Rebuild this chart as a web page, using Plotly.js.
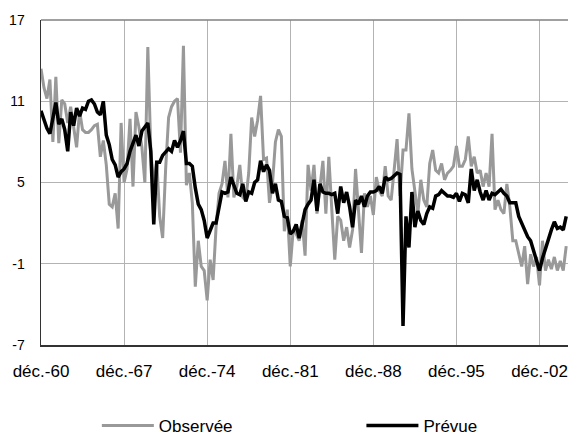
<!DOCTYPE html>
<html>
<head>
<meta charset="utf-8">
<script src="https://cdn.plot.ly/plotly-3.0.1.min.js"></script>
<style>html,body{margin:0;padding:0;background:#fff;}#chart{width:568px;height:436px;}</style>
</head>
<body>
<div id="chart"></div>
<script>
// Quarterly periods starting déc.-60
const quarterNames = ['déc.', 'mars', 'juin', 'sept.'];
const startYear = 1960;

const observee = [
  13.4, 12.0, 11.2, 12.6, 8.0, 12.8, 7.9, 11.1, 10.8, 9.4,
  10.6, 8.9, 7.6, 10.3, 8.9, 8.7, 8.7, 8.9, 9.2, 9.3,
  6.9, 8.1, 6.3, 3.4, 3.2, 4.2, 1.6, 9.4, 5.0, 6.0,
  9.7, 4.7, 10.2, 9.1, 7.6, 5.0, 15.0, 7.4, 4.7, 6.6,
  2.5, 0.9, 6.0, 9.8, 10.6, 11.0, 11.2, 7.2, 15.1, 4.8,
  5.7, 3.5, -2.7, 0.7, -1.2, -1.5, -3.7, -0.7, -2.2, 1.7,
  4.2, 4.9, 6.6, 3.9, 8.6, 3.9, 4.7, 6.3, 3.9, 3.7,
  5.7, 9.8, 8.4, 9.6, 11.4, 6.7, 6.8, 3.5, 4.9, 8.0,
  8.9, 8.4, 1.4, 3.0, -1.2, 1.5, 1.2, 0.7, 2.2, -0.4,
  6.3, 4.4, 6.3, 2.7, 4.5, 6.6, 2.7, 6.9, 3.0, -0.7,
  2.5, 2.2, 0.7, 1.7, 0.2, 1.5, 6.0, 3.0, -0.2, 4.2,
  3.2, 4.0, 2.6, 5.4, 4.4, 4.0, 6.2, 4.0, 3.7, 5.9,
  8.2, 4.0, 7.4, 7.4, 10.1, 6.0, 4.2, 2.7, 5.2, 3.7,
  3.2, 6.4, 7.4, 5.9, 5.7, 6.4, 5.2, 5.7, 5.9, 6.2,
  7.7, 6.2, 6.2, 6.7, 8.4, 6.2, 6.9, 5.7, 5.9, 4.7,
  5.7, 4.7, 8.6, 3.0, 3.7, 3.0, 2.7, 4.9, 3.2, 0.7,
  0.7, -0.2, -1.2, 0.3, -2.5, -0.3, -1.2, -0.5, -2.6, 0.7,
  -1.5, -0.7, -1.4, -0.5, -1.5, -0.8, -1.5, 0.3
];

const prevue = [
  10.3, 9.6, 9.0, 8.6, 9.6, 10.9, 9.3, 9.7, 8.9, 7.3,
  10.2, 9.2, 10.5, 9.9, 10.5, 10.4, 11.0, 11.1, 10.8, 10.2,
  10.0, 11.0, 8.5, 7.8, 6.7, 6.3, 5.4, 5.8, 6.0, 6.4,
  7.3, 8.0, 8.5, 7.7, 8.8, 9.1, 9.4, 7.3, 1.9, 6.5,
  6.5, 7.0, 7.3, 7.5, 7.3, 8.1, 7.6, 8.1, 8.8, 6.4,
  6.4, 6.2, 4.6, 3.4, 3.0, 2.2, 0.9, 1.4, 2.0, 2.0,
  3.2, 4.3, 4.2, 4.3, 5.4, 4.7, 4.2, 4.1, 4.9, 3.6,
  4.3, 4.2, 5.0, 5.2, 6.6, 5.8, 6.3, 5.9, 4.2, 4.9,
  3.7, 3.6, 2.5, 2.4, 1.2, 1.4, 1.9, 0.9, 2.0, 3.0,
  3.4, 3.7, 5.2, 2.9, 4.9, 4.3, 4.2, 4.2, 4.1, 4.2,
  2.7, 4.7, 3.5, 4.3, 3.2, 1.7, 3.7, 3.4, 4.0, 3.2,
  4.0, 4.3, 4.3, 4.4, 4.7, 4.2, 5.4, 5.2, 5.3, 5.5,
  5.7, 5.6, -5.6, 2.5, 0.2, 4.3, 1.7, 2.9, 2.2, 1.9,
  2.7, 3.2, 3.1, 4.0, 4.1, 4.4, 4.2, 4.0, 4.0, 3.9,
  4.2, 3.6, 4.2, 4.1, 3.5, 6.0, 4.4, 5.2, 4.3, 3.7,
  4.4, 3.7, 4.2, 4.1, 4.3, 4.5, 4.2, 4.0, 3.5, 3.5,
  3.5, 2.5, 2.0, 1.5, 1.0, 0.7, 0.0, -0.7, -1.5, -0.6,
  0.2, 0.8, 1.5, 2.1, 1.6, 1.7, 1.5, 2.5
];

const xTickLabels = ['déc.-60', 'déc.-67', 'déc.-74', 'déc.-81', 'déc.-88', 'déc.-95', 'déc.-02'];
const yTickValues = [-7, -1, 5, 11, 17];
const seriesNames = ['Observée', 'Prévue'];

// category labels for each quarter
const categories = observee.map(function (_, i) {
  const year = startYear + Math.floor((i + 3) / 4);
  return quarterNames[i % 4] + '-' + String(year % 100).padStart(2, '0');
});

const FONT = 'Arial, "Liberation Sans", sans-serif';
const GRID = '#b3b3b3';

const traces = [
  {
    type: 'scatter', mode: 'lines', name: seriesNames[0],
    x: categories, y: observee, legend: 'legend',
    line: {color: '#999999', width: 3}
  },
  {
    type: 'scatter', mode: 'lines', name: seriesNames[1],
    x: categories, y: prevue, legend: 'legend2',
    line: {color: '#000000', width: 3.5}
  }
];

const legendCommon = {
  orientation: 'h', xanchor: 'left', y: -0.249, yanchor: 'middle',
  font: {family: FONT, size: 17, color: '#000'},
  bgcolor: 'rgba(0,0,0,0)', itemwidth: 52
};

const layout = {
  width: 568, height: 436,
  margin: {l: 41, r: 0, t: 20, b: 91, pad: 0, autoexpand: false},
  paper_bgcolor: '#ffffff', plot_bgcolor: '#ffffff',
  font: {family: FONT, color: '#000000', size: 14},
  showlegend: true,
  legend: Object.assign({}, legendCommon, {x: 0.106}),
  legend2: Object.assign({}, legendCommon, {x: 0.608}),
  xaxis: {
    type: 'category', range: [0, 177.6], autorange: false,
    tickmode: 'array', tickvals: xTickLabels, ticktext: xTickLabels,
    showgrid: true, gridcolor: GRID, gridwidth: 1,
    showline: true, linecolor: '#333333', linewidth: 1.5,
    ticks: '', tickfont: {family: FONT, size: 17, color: '#000'},
    ticklabelstandoff: 10, zeroline: false, fixedrange: true
  },
  yaxis: {
    range: [-7, 17], autorange: false,
    tickmode: 'array', tickvals: yTickValues, ticktext: yTickValues.map(String),
    showgrid: true, gridcolor: GRID, gridwidth: 1,
    showline: true, linecolor: '#333333', linewidth: 1.5,
    ticks: '', tickfont: {family: FONT, size: 14, color: '#000'},
    ticklabelstandoff: 12, zeroline: false, fixedrange: true
  },
  shapes: [
    {type: 'line', xref: 'paper', yref: 'paper', x0: 0, x1: 1, y0: 1, y1: 1,
     line: {color: '#808080', width: 1.5}}
  ]
};

Plotly.newPlot('chart', traces, layout, {displayModeBar: false, staticPlot: true});
</script>
</body>
</html>
